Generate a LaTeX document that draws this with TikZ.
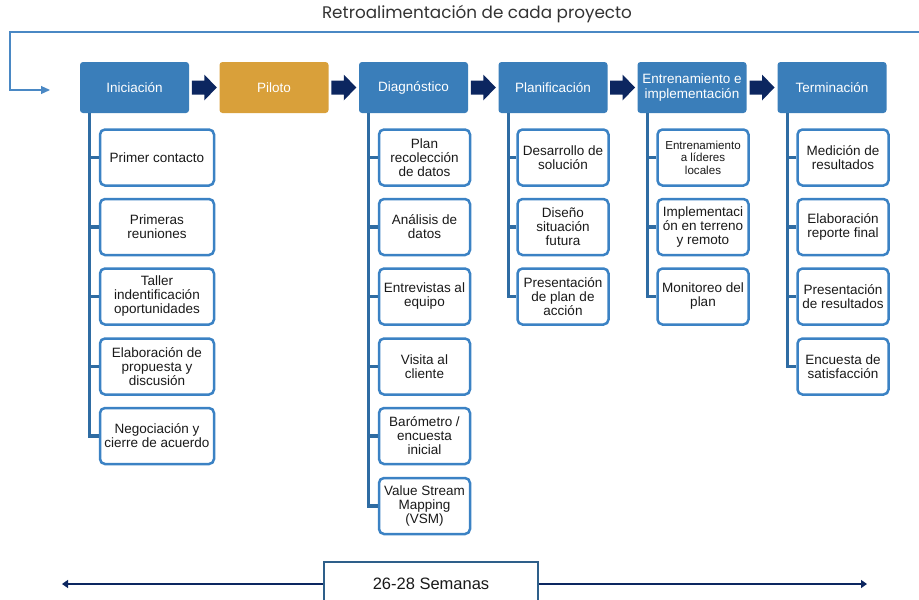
\documentclass[tikz,border=0pt]{standalone}
\usepackage{fontspec}
\setmainfont{Liberation Sans}
\newfontfamily\titlefont{Poppins}
\usetikzlibrary{calc,arrows.meta}

\definecolor{hdrblue}{HTML}{3A7EBA}
\definecolor{boxblue}{HTML}{3B82C4}
\definecolor{trunkblue}{HTML}{2F6CA3}
\definecolor{navy}{HTML}{0C2660}
\definecolor{gold}{HTML}{D9A03A}
\definecolor{fbblue}{HTML}{4A88C4}
\definecolor{txt}{HTML}{1A1A1A}
\definecolor{steel}{HTML}{2E5F8A}

\tikzset{
  hdr/.style={rectangle, rounded corners=3pt, fill=hdrblue, text=white,
    minimum width=109pt, minimum height=51pt, inner sep=1pt, align=center,
    font=\fontsize{13.5}{15}\selectfont},
  sub/.style={rectangle, rounded corners=5pt, draw=boxblue, line width=2.5pt,
    fill=white, text=txt, minimum width=91pt, minimum height=56pt,
    inner sep=0pt, align=center, font=\fontsize{13.5}{14}\selectfont},
  wide/.style={minimum width=114pt},
  trunk/.style={draw=trunkblue, line width=3.2pt},
  blockarrow/.pic={\fill[navy] (-12.5,-7) -- (0,-7) -- (0,-13) -- (12.5,0)
     -- (0,13) -- (0,7) -- (-12.5,7) -- cycle;}
}

\begin{document}
\begin{tikzpicture}[x=1pt,y=-1pt]
\useasboundingbox (0,0) rectangle (919,600);
\clip (0,0) rectangle (919,600);

% feedback loop along the top
\node[font=\titlefont\fontsize{16.8}{19}\selectfont, text=black!80] (fbt) at (477,14) {Retroalimentación de cada proyecto};
\coordinate (fbR) at (919,32);
\coordinate (fbL) at (10,32);
\coordinate (fbE) at (50,90);
\draw[fbblue, line width=1.2pt, -{Triangle[length=9pt,width=8pt]}] (fbR) -- (fbL) |- (fbE);

% phase headers
\node[hdr] (ini) at (134.5,87.5) {Iniciación};
\node[hdr, fill=gold] (pil) at (274,87.5) {Piloto};
\node[hdr] (dia) at (413.5,87.5) {Diagnóstico};
\node[hdr] (pla) at (553,87.5) {Planificación};
\node[hdr] (ent) at (692,87.5) {Entrenamiento e\\implementación};
\node[hdr] (ter) at (832,87.5) {Terminación};

% arrows between phases
\foreach \a/\b in {ini/pil, pil/dia, dia/pla, pla/ent, ent/ter}
  \pic at ($(\a.east)!0.5!(\b.west)$) {blockarrow};

% Iniciación tasks
\node[sub, wide] (a1) at (157,157.5) {Primer contacto};
\node[sub, wide] (a2) at (157,227) {Primeras\\reuniones};
\node[sub, wide] (a3) at (157,296.5) {Taller\\indentificación\\oportunidades};
\node[sub, wide] (a4) at (157,366.5) {Elaboración de\\propuesta y\\discusión};
\node[sub, wide] (a5) at (157,436) {Negociación y\\cierre de acuerdo};

% Diagnóstico tasks
\node[sub] (d1) at (424.5,157.5) {Plan\\recolección\\de datos};
\node[sub] (d2) at (424.5,227) {Análisis de\\datos};
\node[sub] (d3) at (424.5,296.5) {Entrevistas al\\equipo};
\node[sub] (d4) at (424.5,366.5) {Visita al\\cliente};
\node[sub] (d5) at (424.5,436) {Barómetro /\\encuesta\\inicial};
\node[sub] (d6) at (424.5,506) {Value Stream\\Mapping\\(VSM)};

% Planificación tasks
\node[sub] (p1) at (563,157.5) {Desarrollo de\\solución};
\node[sub] (p2) at (563,227) {Diseño\\situación\\futura};
\node[sub] (p3) at (563,296.5) {Presentación\\de plan de\\acción};

% Entrenamiento e implementación tasks
\node[sub, font=\fontsize{11.6}{12.5}\selectfont] (e1) at (703,157.5) {Entrenamiento\\a líderes\\locales};
\node[sub] (e2) at (703,227) {Implementaci\\ón en terreno\\y remoto};
\node[sub] (e3) at (703,296.5) {Monitoreo del\\plan};

% Terminación tasks
\node[sub] (t1) at (843,157.5) {Medición de\\resultados};
\node[sub] (t2) at (843,227) {Elaboración\\reporte final};
\node[sub] (t3) at (843,296.5) {Presentación\\de resultados};
\node[sub] (t4) at (843,366.5) {Encuesta de\\satisfacción};

% trunks and branches from each header to its tasks
\foreach \h/\last/\list in {ini/a5/{a1,a2,a3,a4}, dia/d6/{d1,d2,d3,d4,d5},
    pla/p3/{p1,p2}, ent/e3/{e1,e2}, ter/t4/{t1,t2,t3}} {
  \coordinate (tr\h) at ([xshift=10pt]\h.south west);
  \draw[trunk] (tr\h) |- (\last.west);
  \foreach \c in \list
    \draw[trunk] (\c.west) -- (\c.west -| tr\h);
}

% duration bar
\node[rectangle, draw=steel, line width=2.2pt, fill=white, minimum width=214pt,
  minimum height=44pt, font=\fontsize{16.5}{18}\selectfont, text=txt] (wk) at (431,584) {26-28 Semanas};
\coordinate (wl) at (62,584);
\coordinate (wr) at (867,584);
\draw[navy, line width=1.4pt, -{Triangle[length=6pt,width=8pt]}] (wk.west |- wl) -- (wl);
\draw[navy, line width=1.4pt, -{Triangle[length=6pt,width=8pt]}] (wk.east |- wr) -- (wr);
\end{tikzpicture}
\end{document}
